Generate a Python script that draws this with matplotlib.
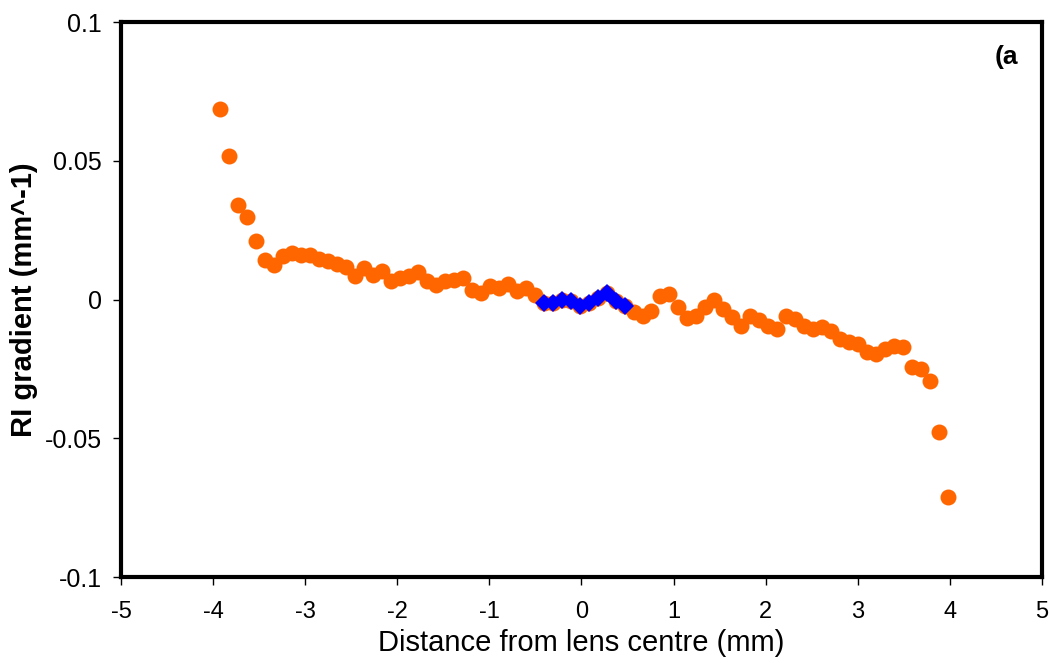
import numpy as np
import matplotlib.pyplot as plt

# orange points: regular spacing across the lens (mm)
x_start = -3.92
x_step = 0.0975
ri_gradient = [
    0.0685, 0.0516, 0.0342, 0.0297, 0.0210, 0.0144, 0.0125, 0.0155, 0.0167, 0.0162,
    0.0159, 0.0147, 0.0138, 0.0129, 0.0116, 0.0083, 0.0112, 0.0090, 0.0102, 0.0065,
    0.0078, 0.0086, 0.0098, 0.0067, 0.0052, 0.0068, 0.0072, 0.0079, 0.0034, 0.0023,
    0.0050, 0.0041, 0.0056, 0.0029, 0.0043, 0.0016, -0.0011, -0.0014, 0.0000, -0.0004,
    -0.0022, -0.0011, 0.0004, 0.0023, -0.0004, -0.0022, -0.0046, -0.0058, -0.0040, 0.0011,
    0.0021, -0.0028, -0.0066, -0.0058, -0.0028, -0.0001, -0.0034, -0.0064, -0.0097, -0.0061,
    -0.0073, -0.0097, -0.0106, -0.0061, -0.0070, -0.0094, -0.0108, -0.0100, -0.0112, -0.0142,
    -0.0154, -0.0160, -0.0190, -0.0196, -0.0178, -0.0168, -0.0172, -0.0244, -0.0250, -0.0294,
    -0.0478, -0.0712,
]
# central region highlighted in blue (index range into the series above)
centre_first = 36
centre_last = 45

x_ticks = [-5, -4, -3, -2, -1, 0, 1, 2, 3, 4, 5]
y_ticks = [-0.1, -0.05, 0, 0.05, 0.1]
y_tick_labels = ['-0.1', '-0.05', '0', '0.05', '0.1']

distance = x_start + x_step * np.arange(len(ri_gradient))
ri_gradient = np.array(ri_gradient)
cx = distance[centre_first:centre_last + 1]
cy = ri_gradient[centre_first:centre_last + 1]

plt.rcParams['font.family'] = ['Liberation Sans', 'DejaVu Sans']

fig = plt.figure(figsize=(10.5, 6.63), dpi=100)
ax = fig.add_axes([0.1152, 0.1297, 0.8772, 0.8371])

ax.plot(distance, ri_gradient, 'o', color='#FF6600', markersize=11.5, markeredgewidth=0, zorder=2)
ax.plot(cx, cy, 'D', color='#0000FF', markersize=9.5, markeredgewidth=0, zorder=3)

ax.set_xlim(-5, 5)
ax.set_ylim(-0.1, 0.1)
ax.set_xticks(x_ticks)
ax.set_xticklabels([str(t) for t in x_ticks], fontsize=17)
ax.set_yticks(y_ticks)
ax.set_yticklabels(y_tick_labels, fontsize=18)
ax.tick_params(direction='out', length=6, width=1)
ax.tick_params(axis='x', pad=11)
ax.tick_params(axis='y', pad=8)

for s in ax.spines.values():
    s.set_linewidth(3)

ax.set_xlabel('Distance from lens centre (mm)', fontsize=21)
ax.xaxis.set_label_coords(0.5, -0.094)
ax.set_ylabel('RI gradient (mm^-1)', fontsize=21, fontweight='bold')
ax.yaxis.set_label_coords(-0.09, 0.5)
ax.text(0.974, 0.937, '(a', transform=ax.transAxes, ha='right', va='center',
        fontsize=19, fontweight='bold')

fig.savefig('out.png', dpi=100)
